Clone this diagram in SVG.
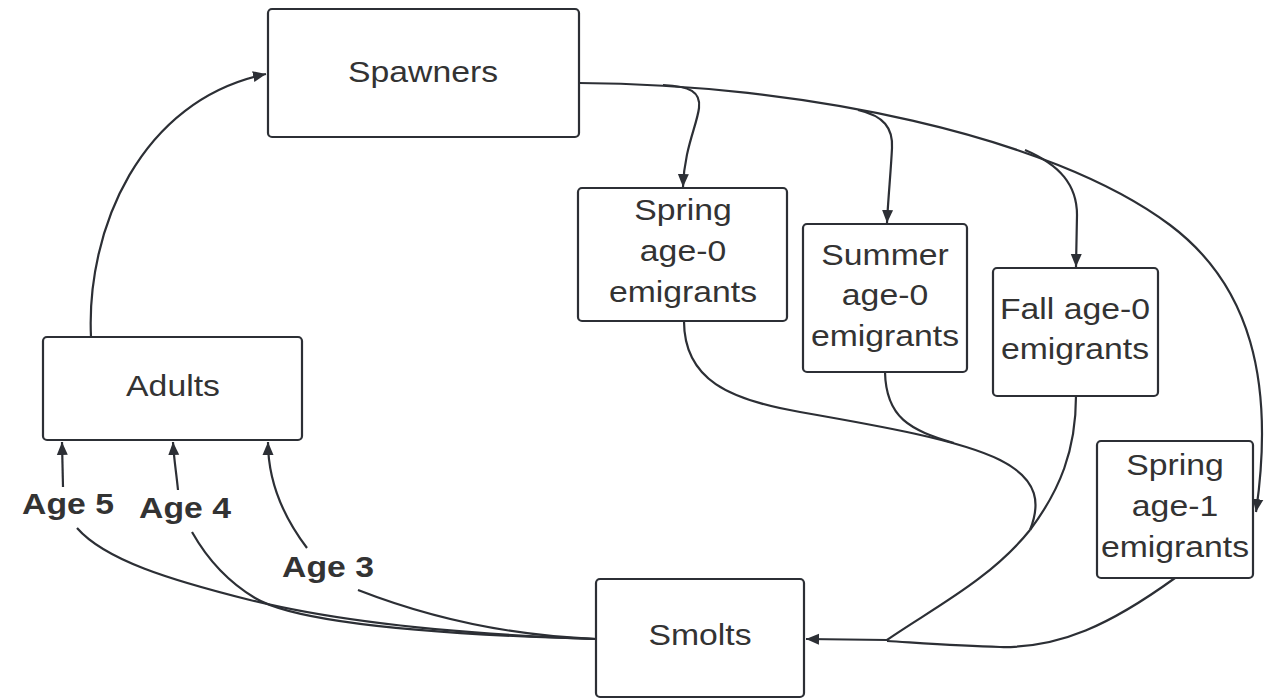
<svg xmlns="http://www.w3.org/2000/svg" width="1268" height="699" viewBox="0 0 1268 699">
<defs>
<style>
.box{fill:#ffffff;stroke:#2c2f35;stroke-width:2.2}
.t{font-family:"Liberation Sans",Arial,sans-serif;font-size:30px;fill:#333333;text-anchor:middle}
.lbl{font-family:"Liberation Sans",Arial,sans-serif;font-size:30px;font-weight:bold;fill:#333333;text-anchor:middle}
.c{fill:none;stroke:#2c2f35;stroke-width:2.2}
.ca{fill:none;stroke:#2c2f35;stroke-width:2.2;marker-end:url(#arr)}
</style>
<marker id="arr" markerUnits="userSpaceOnUse" markerWidth="14" markerHeight="12" refX="13" refY="6" orient="auto">
<path d="M0,0.5 L13,6 L0,11.5 z" fill="#2c2f35"/>
</marker>
</defs>
<rect width="1268" height="699" fill="#ffffff"/>

<g id="connectors">
<path class="ca" d="M91,337 C86,230 140,100 266,74"/>
<path class="ca" d="M579,83 C800,84 1050,135 1170,225 C1250,285 1275,380 1256,512"/>
<path class="ca" d="M663,85 C690,86 701,92 699,108 C697,125 684,150 683,187"/>
<path class="ca" d="M858,110 C884,116 893,128 892,148 C891,170 888,200 887,223"/>
<path class="ca" d="M1025,150 C1060,165 1077,185 1077,215 L1076,267"/>
<path class="c" d="M684,321 C684,380 730,400 800,412 C880,426 960,440 1000,460 C1040,480 1040,505 1030,530"/>
<path class="c" d="M885,372 C886,418 910,430 954,443"/>
<path class="c" d="M1076,396 C1076,450 1060,490 1030,530"/>
<path class="c" d="M1175,578 C1110,625 1060,648 1000,647 C960,646 920,643 887,641"/>
<path class="ca" d="M1030,530 C990,580 930,610 887,640 L806,639"/>
<path class="c" d="M596,639 C520,636 440,622 358,590"/>
<path class="ca" d="M307,548 C282,515 268,480 268,442"/>
<path class="c" d="M596,639 C450,635 300,625 255,598 C225,580 205,555 192,532"/>
<path class="ca" d="M178,490 C176,470 174,460 173,442"/>
<path class="c" d="M596,639 C450,634 330,620 250,600 C170,580 105,560 77,528"/>
<path class="ca" d="M63,487 L62,442"/>
<text class="lbl" transform="translate(68,514) scale(1.125,1)">Age 5</text>
<text class="lbl" transform="translate(185,518) scale(1.125,1)">Age 4</text>
<text class="lbl" transform="translate(328,577) scale(1.125,1)">Age 3</text>
</g>

<g id="spawners">
<rect class="box" x="268" y="9" width="311" height="128" rx="4"/>
<text class="t" transform="translate(423,82) scale(1.125,1)">Spawners</text>
</g>
<g id="adults">
<rect class="box" x="43" y="337" width="259" height="103" rx="4"/>
<text class="t" transform="translate(173,396) scale(1.125,1)">Adults</text>
</g>
<g id="spring-age0">
<rect class="box" x="578" y="188" width="209" height="133" rx="4"/>
<text class="t" transform="translate(683,0) scale(1.125,1)"><tspan x="0" y="220">Spring</tspan><tspan x="0" y="261">age-0</tspan><tspan x="0" y="302">emigrants</tspan></text>
</g>
<g id="summer-age0">
<rect class="box" x="803" y="224" width="164" height="148" rx="4"/>
<text class="t" transform="translate(885,0) scale(1.125,1)"><tspan x="0" y="265">Summer</tspan><tspan x="0" y="305">age-0</tspan><tspan x="0" y="346">emigrants</tspan></text>
</g>
<g id="fall-age0">
<rect class="box" x="993" y="268" width="165" height="128" rx="4"/>
<text class="t" transform="translate(1075,0) scale(1.125,1)"><tspan x="0" y="319">Fall age-0</tspan><tspan x="0" y="359">emigrants</tspan></text>
</g>
<g id="spring-age1">
<rect class="box" x="1097" y="441" width="156" height="137" rx="4"/>
<text class="t" transform="translate(1175,0) scale(1.125,1)"><tspan x="0" y="475">Spring</tspan><tspan x="0" y="516">age-1</tspan><tspan x="0" y="557">emigrants</tspan></text>
</g>
<g id="smolts">
<rect class="box" x="596" y="579" width="208" height="118" rx="4"/>
<text class="t" transform="translate(700,645) scale(1.125,1)">Smolts</text>
</g>
</svg>
